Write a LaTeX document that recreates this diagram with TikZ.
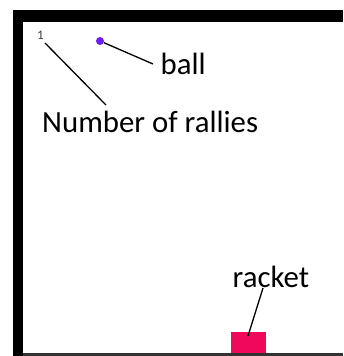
\documentclass[tikz,border=0pt]{standalone}
\usepackage{fontspec}
\setmainfont{Carlito}
\definecolor{racketcol}{RGB}{240,8,92}
\definecolor{ballcol}{RGB}{110,30,240}
\definecolor{numcol}{RGB}{60,60,60}
\begin{document}
\begin{tikzpicture}[x=1pt,y=-1pt,
  lbl/.style={inner sep=0pt,anchor=base west,font=\fontsize{30.8}{31}\selectfont},
  conn/.style={draw=black,line width=1.3pt}]
\useasboundingbox (0,0) rectangle (343,356);
% walls
\fill[black] (13,10) rectangle (343,22);
\fill[black] (13,10) rectangle (23,356);
\fill[black!80] (23,353) rectangle (343,356);
% ball
\node[circle,fill=ballcol,inner sep=0pt,minimum size=8pt] (ball) at (100,41) {};
% racket
\node[fill=racketcol,inner sep=0pt,minimum width=35pt,minimum height=21pt,anchor=north west] (racket) at (231,332) {};
% texts
\node[inner sep=0pt,anchor=base west,text=numcol,font=\fontsize{13}{13}\selectfont] (num) at (37,39) {1};
\node[lbl] (rallies) at (42,132) {Number of rallies};
\node[lbl] (balllbl) at (160.5,74) {ball};
\node[lbl] (racketlbl) at (232.5,287) {racket};
% connectors
\coordinate (numend) at (45,43);
\coordinate (ralliesend) at (106,105);
\coordinate (ballend) at (153,64);
\coordinate (racketend) at (263,288);
\coordinate (racketstart) at (248,336);
\draw[conn] (numend) -- (ralliesend);
\draw[conn] (ball) -- (ballend);
\draw[conn] (racketstart) -- (racketend);
\end{tikzpicture}
\end{document}
